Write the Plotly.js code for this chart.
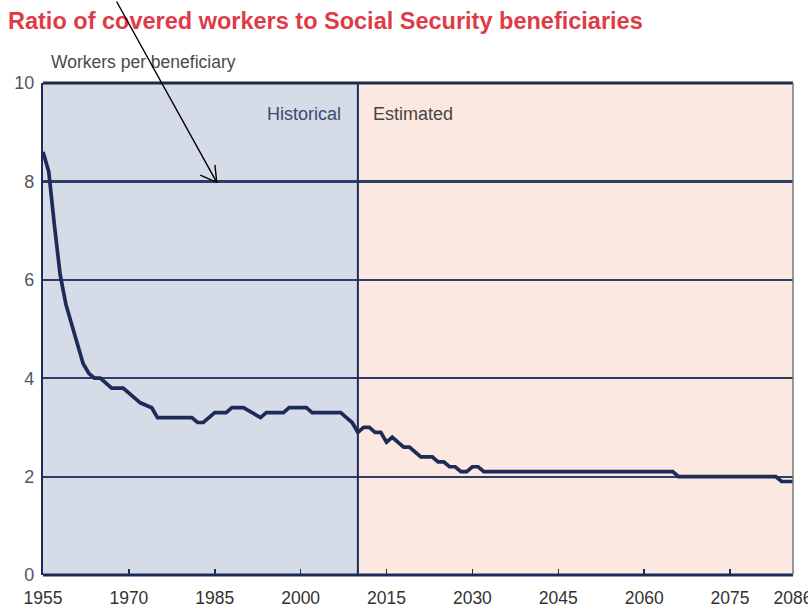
<!DOCTYPE html>
<html>
<head>
<meta charset="utf-8">
<script src="https://cdn.plot.ly/plotly-3.0.1.min.js"></script>
<style>
  html, body { margin: 0; padding: 0; background: #ffffff; }
  #chart { width: 808px; height: 613px; }
</style>
</head>
<body>
<div id="chart"></div>
<script>
// Data
const years = [1955, 1956, 1957, 1958, 1959, 1960, 1961, 1962, 1963, 1964, 1965, 1966, 1967, 1969, 1970, 1971, 1972, 1974, 1975, 1981, 1982, 1983, 1985, 1987, 1988, 1990, 1993, 1994, 1997, 1998, 2001, 2002, 2007, 2008, 2009, 2010, 2011, 2012, 2013, 2014, 2015, 2016, 2017, 2018, 2019, 2020, 2021, 2022, 2023, 2024, 2025, 2026, 2027, 2028, 2029, 2030, 2031, 2032, 2065, 2066, 2083, 2084, 2086];
const workersPerBeneficiary = [8.6, 8.2, 7.1, 6.1, 5.5, 5.1, 4.7, 4.3, 4.1, 4.0, 4.0, 3.9, 3.8, 3.8, 3.7, 3.6, 3.5, 3.4, 3.2, 3.2, 3.1, 3.1, 3.3, 3.3, 3.4, 3.4, 3.2, 3.3, 3.3, 3.4, 3.4, 3.3, 3.3, 3.2, 3.1, 2.9, 3.0, 3.0, 2.9, 2.9, 2.7, 2.8, 2.7, 2.6, 2.6, 2.5, 2.4, 2.4, 2.4, 2.3, 2.3, 2.2, 2.2, 2.1, 2.1, 2.2, 2.2, 2.1, 2.1, 2.0, 2.0, 1.9, 1.9];
const historicalEnd = 2010;
const xStart = 1955;
const xEnd = 2086;
const xTickVals = [1955, 1970, 1985, 2000, 2015, 2030, 2045, 2060, 2075, 2086];
const xTickText = ['1955', '1970', '1985', '2000', '2015', '2030', '2045', '2060', '2075', '2086'];
const yTickVals = [0, 2, 4, 6, 8, 10];
const titleText = 'Ratio of covered workers to Social Security beneficiaries';
const yLabel = 'Workers per beneficiary';
const histLabel = 'Historical';
const estLabel = 'Estimated';

const navy = '#1e2b58';
const gridNavy = '#2c3d66';

const trace = {
  x: years,
  y: workersPerBeneficiary,
  type: 'scatter',
  mode: 'lines',
  line: { color: navy, width: 3.7 },
  hoverinfo: 'x+y'
};

// arrow tip (annotation anchor) in data units
const arrowTip = { x: 1985.35, y: 7.98 };

const layout = {
  width: 808,
  height: 613,
  margin: { l: 43, r: 15, t: 83, b: 38, pad: 0 },
  paper_bgcolor: '#ffffff',
  plot_bgcolor: '#fbe9e1',
  showlegend: false,
  font: { family: 'Arial, "Liberation Sans", sans-serif', color: '#444' },
  title: {
    text: '<b>' + titleText + '</b>',
    font: { family: 'Arial, "Liberation Sans", sans-serif', size: 23.5, color: '#df3b47' },
    xref: 'container', yref: 'container',
    x: 8 / 808, xanchor: 'left',
    y: 1 - 21 / 613, yanchor: 'middle'
  },
  xaxis: {
    range: [xStart, xEnd],
    tickmode: 'array',
    tickvals: xTickVals,
    ticktext: xTickText,
    ticks: 'inside',
    ticklen: 6,
    tickwidth: 1.5,
    tickcolor: navy,
    ticklabelstandoff: 10,
    ticklabeloverflow: 'allow',
    showgrid: false,
    zeroline: false,
    showline: false,
    tickfont: { size: 17.5, color: '#333' },
    automargin: false,
    fixedrange: true
  },
  yaxis: {
    range: [0, 10],
    tickmode: 'array',
    tickvals: yTickVals,
    ticks: '',
    ticklabelstandoff: 3,
    showgrid: true,
    gridcolor: gridNavy,
    gridwidth: 2.2,
    zeroline: false,
    showline: true,
    linecolor: navy,
    linewidth: 2.2,
    tickfont: { size: 18, color: '#555' },
    automargin: false,
    fixedrange: true
  },
  shapes: [
    { type: 'rect', xref: 'x', yref: 'paper', x0: xStart, x1: historicalEnd, y0: 0, y1: 1,
      fillcolor: '#d5dce8', line: { width: 0 }, layer: 'below' },
    { type: 'line', xref: 'x', yref: 'paper', x0: historicalEnd, x1: historicalEnd, y0: 0, y1: 1,
      line: { color: navy, width: 2 }, layer: 'above' },
    { type: 'line', xref: 'paper', yref: 'paper', x0: 0, x1: 1, y0: 1, y1: 1,
      line: { color: '#1f2a48', width: 2.8 } },
    { type: 'line', xref: 'paper', yref: 'paper', x0: 0, x1: 1, y0: 0, y1: 0,
      line: { color: navy, width: 2.8 } },
    { type: 'line', xref: 'paper', yref: 'paper', x0: 1, x1: 1, y0: 0, y1: 1,
      line: { color: '#777777', width: 1.5 } }
  ],
  annotations: [
    { text: yLabel, xref: 'paper', yref: 'paper', x: 6 / 750, y: 1 + 21 / 492,
      xanchor: 'left', yanchor: 'middle', showarrow: false,
      font: { size: 17.5, color: '#4a4a4a' } },
    { text: histLabel, xref: 'x', yref: 'y', x: 2000.6, y: 9.36,
      xanchor: 'center', yanchor: 'middle', showarrow: false,
      font: { size: 18, color: '#3a4a70' } },
    { text: estLabel, xref: 'x', yref: 'y', x: 2019.6, y: 9.36,
      xanchor: 'center', yanchor: 'middle', showarrow: false,
      font: { size: 18, color: '#454545' } },
    { text: '', xref: 'x', yref: 'y', x: arrowTip.x, y: arrowTip.y,
      showarrow: true, arrowhead: 0, arrowwidth: 1.4, arrowcolor: '#000000',
      ax: -101, ay: -192, standoff: 0 },
    { text: '', xref: 'x', yref: 'y', x: arrowTip.x, y: arrowTip.y,
      showarrow: true, arrowhead: 0, arrowwidth: 1.4, arrowcolor: '#000000',
      ax: -18, ay: -8, standoff: 0 },
    { text: '', xref: 'x', yref: 'y', x: arrowTip.x, y: arrowTip.y,
      showarrow: true, arrowhead: 0, arrowwidth: 1.4, arrowcolor: '#000000',
      ax: -2, ay: -19, standoff: 0 }
  ]
};

Plotly.newPlot('chart', [trace], layout, { displayModeBar: false, staticPlot: true });
</script>
</body>
</html>
